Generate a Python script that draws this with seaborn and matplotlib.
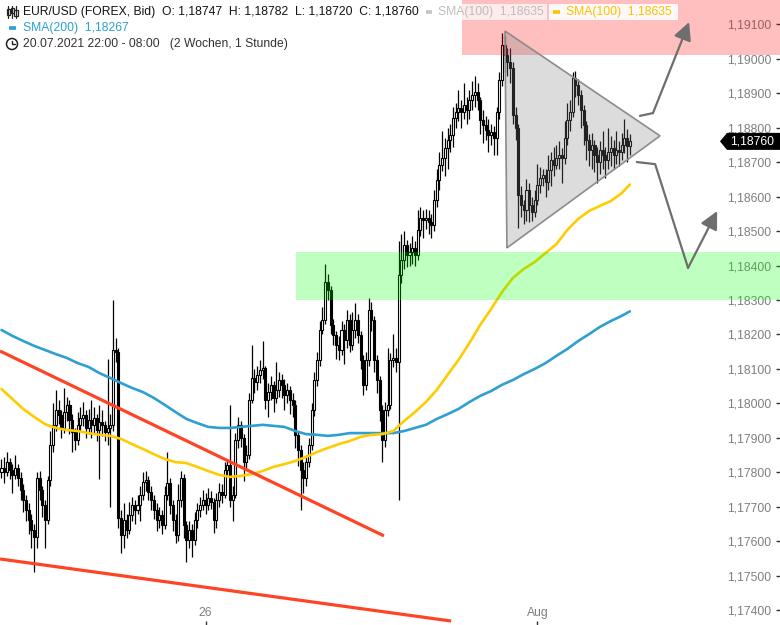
"""
EUR/USD 1h-Kerzen mit SMA(100)/SMA(200), Dreieck, Zonen und Trendlinien.
"""

import numpy as np
import pandas as pd
import matplotlib.pyplot as plt
import matplotlib.patches as mpatches
import matplotlib.transforms as mtrans
from matplotlib.lines import Line2D
from matplotlib.ticker import FixedLocator, MultipleLocator, FuncFormatter
import seaborn as sns

# ─────────────────────────────────────────────
# Daten (1-Stunden-Kerzen, Index = Kerze)
# ─────────────────────────────────────────────
first_open = 1.17800

close = [
    1.17813, 1.17801, 1.17830, 1.17807, 1.17793, 1.17813, 1.17784, 1.17749, 1.17720, 1.17691,
    1.17662, 1.17633, 1.17613, 1.17784, 1.17749, 1.17706, 1.17662, 1.17778, 1.17880, 1.17938,
    1.17981, 1.17967, 1.17929, 1.17975, 1.17996, 1.17952, 1.17917, 1.17894, 1.17938, 1.17958,
    1.17967, 1.17929, 1.17952, 1.17938, 1.17958, 1.17923, 1.17946, 1.17938, 1.17917, 1.17929,
    1.17938, 1.18155, 1.18149, 1.17668, 1.17619, 1.17662, 1.17633, 1.17677, 1.17706, 1.17691,
    1.17706, 1.17735, 1.17772, 1.17778, 1.17743, 1.17720, 1.17691, 1.17662, 1.17677, 1.17648,
    1.17735, 1.17769, 1.17706, 1.17662, 1.17619, 1.17720, 1.17784, 1.17648, 1.17604, 1.17633,
    1.17604, 1.17662, 1.17691, 1.17706, 1.17720, 1.17706, 1.17726, 1.17714, 1.17662, 1.17720,
    1.17743, 1.17735, 1.17807, 1.17822, 1.17720, 1.17735, 1.17894, 1.17938, 1.17900, 1.17830,
    1.17851, 1.18010, 1.18074, 1.18062, 1.18083, 1.18097, 1.18103, 1.18010, 1.18033, 1.18054,
    1.18016, 1.18039, 1.18068, 1.18054, 1.18025, 1.18039, 1.18010, 1.17996, 1.17909, 1.17865,
    1.17807, 1.17784, 1.17830, 1.17880, 1.17981, 1.18068, 1.18126, 1.18213, 1.18242, 1.18352,
    1.18329, 1.18228, 1.18199, 1.18170, 1.18155, 1.18213, 1.18184, 1.18242, 1.18170, 1.18213,
    1.18242, 1.18199, 1.18126, 1.18054, 1.18126, 1.18271, 1.18242, 1.18126, 1.18068, 1.17981,
    1.17894, 1.17981, 1.17996, 1.18126, 1.18132, 1.18120, 1.18373, 1.18416, 1.18460, 1.18431,
    1.18439, 1.18451, 1.18431, 1.18503, 1.18538, 1.18532, 1.18538, 1.18526, 1.18518, 1.18590,
    1.18648, 1.18692, 1.18712, 1.18741, 1.18764, 1.18779, 1.18828, 1.18845, 1.18857, 1.18845,
    1.18866, 1.18851, 1.18880, 1.18895, 1.18903, 1.18880, 1.18822, 1.18808, 1.18793, 1.18779,
    1.18787, 1.18770, 1.18845, 1.18938, 1.19040, 1.19011, 1.18990, 1.18973, 1.18837, 1.18799,
    1.18605, 1.18576, 1.18561, 1.18619, 1.18576, 1.18555, 1.18590, 1.18634, 1.18654, 1.18663,
    1.18642, 1.18677, 1.18706, 1.18692, 1.18712, 1.18721, 1.18712, 1.18770, 1.18822, 1.18845,
    1.18944, 1.18924, 1.18895, 1.18851, 1.18808, 1.18764, 1.18735, 1.18750, 1.18721, 1.18700,
    1.18735, 1.18721, 1.18706, 1.18729, 1.18741, 1.18721, 1.18735, 1.18729, 1.18750, 1.18770,
    1.18747, 1.18760,
]

high = [
    1.17840, 1.17845, 1.17860, 1.17842, 1.17825, 1.17850, 1.17825, 1.17800, 1.17765, 1.17735,
    1.17710, 1.17680, 1.17650, 1.17800, 1.17805, 1.17760, 1.17720, 1.17790, 1.17920, 1.18000,
    1.18040, 1.18010, 1.17980, 1.18045, 1.18020, 1.18010, 1.17970, 1.17930, 1.17975, 1.17990,
    1.18005, 1.17980, 1.17985, 1.18010, 1.17990, 1.17970, 1.17995, 1.17980, 1.17950, 1.18130,
    1.17970, 1.18300, 1.18190, 1.18160, 1.17690, 1.17710, 1.17680, 1.17715, 1.17730, 1.17720,
    1.17735, 1.17760, 1.17800, 1.17805, 1.17790, 1.17760, 1.17735, 1.17710, 1.17700, 1.17690,
    1.17760, 1.17860, 1.17785, 1.17720, 1.17680, 1.17765, 1.17805, 1.17795, 1.17660, 1.17660,
    1.17650, 1.17685, 1.17710, 1.17730, 1.17750, 1.17740, 1.17755, 1.17745, 1.17725, 1.17740,
    1.17770, 1.17765, 1.17830, 1.17840, 1.17995, 1.17760, 1.17915, 1.17960, 1.17950, 1.17910,
    1.17880, 1.18030, 1.18170, 1.18100, 1.18110, 1.18125, 1.18180, 1.18110, 1.18060, 1.18080,
    1.18065, 1.18120, 1.18090, 1.18085, 1.18070, 1.18060, 1.18050, 1.18030, 1.18010, 1.17920,
    1.17880, 1.17830, 1.17850, 1.17900, 1.18000, 1.18090, 1.18150, 1.18240, 1.18280, 1.18405,
    1.18375, 1.18340, 1.18245, 1.18210, 1.18195, 1.18240, 1.18230, 1.18270, 1.18260, 1.18265,
    1.18290, 1.18260, 1.18210, 1.18140, 1.18150, 1.18305, 1.18295, 1.18255, 1.18140, 1.18080,
    1.17995, 1.18005, 1.18160, 1.18145, 1.18200, 1.18160, 1.18470, 1.18490, 1.18500, 1.18475,
    1.18465, 1.18485, 1.18470, 1.18560, 1.18570, 1.18560, 1.18565, 1.18560, 1.18550, 1.18620,
    1.18680, 1.18730, 1.18790, 1.18770, 1.18800, 1.18810, 1.18860, 1.18870, 1.18910, 1.18880,
    1.18930, 1.18890, 1.18910, 1.18935, 1.18950, 1.18930, 1.18890, 1.18850, 1.18835, 1.18825,
    1.18810, 1.18805, 1.18860, 1.18960, 1.19075, 1.19065, 1.19030, 1.19030, 1.18990, 1.18860,
    1.18810, 1.18630, 1.18590, 1.18650, 1.18640, 1.18600, 1.18620, 1.18695, 1.18685, 1.18680,
    1.18680, 1.18720, 1.18730, 1.18745, 1.18750, 1.18760, 1.18740, 1.18820, 1.18870, 1.18880,
    1.18960, 1.18965, 1.18940, 1.18910, 1.18865, 1.18820, 1.18780, 1.18785, 1.18765, 1.18745,
    1.18760, 1.18790, 1.18745, 1.18800, 1.18775, 1.18765, 1.18790, 1.18760, 1.18785, 1.18825,
    1.18795, 1.18782,
]

low = [
    1.17785, 1.17770, 1.17790, 1.17780, 1.17740, 1.17780, 1.17760, 1.17720, 1.17685, 1.17660,
    1.17620, 1.17580, 1.17510, 1.17580, 1.17720, 1.17670, 1.17580, 1.17650, 1.17760, 1.17860,
    1.17920, 1.17940, 1.17900, 1.17915, 1.17950, 1.17910, 1.17860, 1.17865, 1.17880, 1.17920,
    1.17935, 1.17900, 1.17910, 1.17900, 1.17915, 1.17890, 1.17780, 1.17905, 1.17890, 1.17880,
    1.17700, 1.17920, 1.18120, 1.17640, 1.17565, 1.17580, 1.17610, 1.17620, 1.17660, 1.17650,
    1.17680, 1.17660, 1.17720, 1.17745, 1.17720, 1.17690, 1.17665, 1.17630, 1.17640, 1.17620,
    1.17635, 1.17720, 1.17680, 1.17630, 1.17595, 1.17600, 1.17700, 1.17610, 1.17540, 1.17580,
    1.17555, 1.17590, 1.17640, 1.17670, 1.17690, 1.17680, 1.17690, 1.17695, 1.17625, 1.17640,
    1.17700, 1.17710, 1.17725, 1.17790, 1.17700, 1.17660, 1.17725, 1.17870, 1.17875, 1.17775,
    1.17810, 1.17840, 1.18000, 1.18030, 1.18040, 1.18060, 1.18070, 1.17985, 1.17960, 1.18010,
    1.17975, 1.18000, 1.18020, 1.18015, 1.17980, 1.18000, 1.17970, 1.17960, 1.17870, 1.17820,
    1.17690, 1.17740, 1.17760, 1.17815, 1.17865, 1.17965, 1.18050, 1.18110, 1.18200, 1.18230,
    1.18300, 1.18200, 1.18170, 1.18130, 1.18125, 1.18140, 1.18115, 1.18160, 1.18150, 1.18155,
    1.18190, 1.18175, 1.18100, 1.18025, 1.18040, 1.18110, 1.18210, 1.18090, 1.18030, 1.17950,
    1.17830, 1.17875, 1.17965, 1.17985, 1.18105, 1.18090, 1.17720, 1.18350, 1.18390, 1.18395,
    1.18400, 1.18405, 1.18400, 1.18415, 1.18485, 1.18480, 1.18505, 1.18490, 1.18480, 1.18500,
    1.18570, 1.18620, 1.18675, 1.18660, 1.18680, 1.18730, 1.18745, 1.18800, 1.18820, 1.18800,
    1.18825, 1.18810, 1.18825, 1.18850, 1.18860, 1.18850, 1.18780, 1.18755, 1.18765, 1.18730,
    1.18750, 1.18720, 1.18720, 1.18825, 1.18920, 1.18960, 1.18950, 1.18930, 1.18810, 1.18765,
    1.18510, 1.18540, 1.18520, 1.18530, 1.18525, 1.18530, 1.18540, 1.18575, 1.18610, 1.18630,
    1.18600, 1.18620, 1.18630, 1.18660, 1.18680, 1.18680, 1.18640, 1.18695, 1.18750, 1.18790,
    1.18830, 1.18890, 1.18865, 1.18800, 1.18750, 1.18705, 1.18690, 1.18680, 1.18670, 1.18640,
    1.18665, 1.18680, 1.18655, 1.18680, 1.18690, 1.18680, 1.18695, 1.18690, 1.18705, 1.18725,
    1.18700, 1.18720,
]

# gleitende Durchschnitte (alle 4 Kerzen)
sma_idx = [0, 4, 8, 12, 16, 20, 24, 28, 32, 36, 40, 44, 48, 52, 56, 60, 64, 68, 72, 76,
           80, 84, 88, 92, 96, 100, 104, 108, 112, 116, 120, 124, 128, 132, 136, 140, 144,
           148, 152, 156, 160, 164, 168, 172, 176, 180, 184, 188, 192, 196, 200, 204, 208,
           212, 216, 220, 224, 228, 231]
sma100 = [1.18042, 1.18013, 1.17984, 1.17961, 1.17940, 1.17929, 1.17923, 1.17920, 1.17914, 1.17909,
          1.17906, 1.17897, 1.17882, 1.17868, 1.17853, 1.17839, 1.17830, 1.17827, 1.17816, 1.17804,
          1.17793, 1.17787, 1.17790, 1.17795, 1.17804, 1.17816, 1.17824, 1.17833, 1.17845, 1.17859,
          1.17871, 1.17882, 1.17891, 1.17903, 1.17909, 1.17911, 1.17920, 1.17949, 1.17975, 1.18004,
          1.18039, 1.18083, 1.18126, 1.18175, 1.18228, 1.18274, 1.18323, 1.18364, 1.18390, 1.18410,
          1.18436, 1.18462, 1.18503, 1.18535, 1.18558, 1.18573, 1.18587, 1.18610, 1.18635]
sma200 = [1.18213, 1.18196, 1.18181, 1.18167, 1.18155, 1.18143, 1.18132, 1.18117, 1.18106, 1.18088,
          1.18074, 1.18059, 1.18045, 1.18033, 1.18016, 1.17996, 1.17975, 1.17955, 1.17943, 1.17932,
          1.17929, 1.17929, 1.17932, 1.17935, 1.17938, 1.17935, 1.17932, 1.17920, 1.17911, 1.17909,
          1.17906, 1.17909, 1.17914, 1.17914, 1.17914, 1.17914, 1.17914, 1.17920, 1.17929, 1.17938,
          1.17955, 1.17969, 1.17984, 1.18004, 1.18022, 1.18036, 1.18054, 1.18068, 1.18085, 1.18100,
          1.18117, 1.18138, 1.18158, 1.18181, 1.18201, 1.18222, 1.18239, 1.18254, 1.18267]

# Achsenbeschriftung x (Kerzenindex -> Label)
xtick_idx = [75, 197]
xtick_labels = ["26", "Aug"]

# Zeichnungen (Kerzenindex, Kurs)
zone_red = (169.3, 1.19010, 1.19250)     # x-Start, unten, oben
zone_green = (108.3, 1.18300, 1.18440)
triangle = [(185.1, 1.19080), (185.8, 1.18451), (242.1, 1.18776)]
trend_upper = [(-0.55, 1.18152), (140.6, 1.17616)]
trend_lower = [(-0.55, 1.17549), (165.3, 1.17369)]
arrow_up = [(234.7, 1.18834), (239.5, 1.18842), (252.8, 1.19106)]
arrow_down = [(233.6, 1.18700), (240.3, 1.18694), (252.4, 1.18393), (263.1, 1.18558)]


def fmt(v):
    return f"{v:.5f}".replace(".", ",")


# ─────────────────────────────────────────────
# Figur
# ─────────────────────────────────────────────
sns.set_theme(style="white")
plt.rcParams["font.family"] = ["Liberation Sans", "DejaVu Sans"]
FS = 8.75

W, H = 780, 625
fig = plt.figure(figsize=(W / 100, H / 100), dpi=100)
ax = fig.add_axes([0, 0, 1, 1])
ax.set_xlim(-0.55, 286.2)
ax.set_ylim(1.173575, 1.19170)

close = np.array(close)
high = np.array(high)
low = np.array(low)
opens = np.r_[first_open, close[:-1]]
idx = np.arange(len(close))
up = close >= opens

# Kerzen
ax.vlines(idx, low, high, color="black", lw=0.9, zorder=2)
body_lo = np.minimum(opens, close)
body_h = np.maximum(np.abs(close - opens), 0.00003)
ax.bar(idx[up], body_h[up], bottom=body_lo[up], width=0.75,
       color="white", edgecolor="black", linewidth=0.8, zorder=2.5)
ax.bar(idx[~up], body_h[~up], bottom=body_lo[~up], width=0.75,
       color="black", edgecolor="black", linewidth=0.8, zorder=2.5)

# SMAs
df_sma = pd.DataFrame({"idx": sma_idx, "sma100": sma100, "sma200": sma200})
sns.lineplot(data=df_sma, x="idx", y="sma200", ax=ax, color="#2E9FD0", lw=1.9, zorder=3)
sns.lineplot(data=df_sma, x="idx", y="sma100", ax=ax, color="#FFCC00", lw=1.9, zorder=3)

# Trendlinien
for line in (trend_upper, trend_lower):
    xs, ys = zip(*line)
    ax.plot(xs, ys, color="#FF4426", lw=2.3, solid_capstyle="butt", zorder=4)

# Zonen (halbtransparent über den Kerzen)
for (x0, y0, y1), col in ((zone_red, "#FF0000"), (zone_green, "#00FF00")):
    ax.add_patch(mpatches.Rectangle((x0, y0), 400, y1 - y0, facecolor=col,
                                    alpha=0.25, edgecolor="none", zorder=5))

# Dreieck
ax.add_patch(mpatches.Polygon(triangle, closed=True, facecolor="#808080", alpha=0.27,
                              edgecolor="none", zorder=6))
ax.add_patch(mpatches.Polygon(triangle, closed=True, facecolor="none",
                              edgecolor="#8C8C8C", lw=1.2, zorder=6))

# Pfeile
for pts in (arrow_up, arrow_down):
    xs, ys = zip(*pts)
    ax.plot(xs[:-1], ys[:-1], color="#6E6E6E", lw=1.6, zorder=7)
    ax.annotate("", xy=pts[-1], xytext=pts[-2],
                arrowprops=dict(arrowstyle="-|>,head_length=0.9,head_width=0.45",
                                color="#6E6E6E", lw=1.6, shrinkA=0, shrinkB=0),
                zorder=7)

# Achsen
for s in ax.spines.values():
    s.set_visible(False)
ax.set_xlabel("")
ax.set_ylabel("")
ax.yaxis.tick_right()
ax.yaxis.set_major_locator(MultipleLocator(0.001))
ax.yaxis.set_major_formatter(FuncFormatter(lambda v, p: fmt(v)))
ax.tick_params(axis="y", direction="in", length=3, width=1, color="#333333",
               pad=-6, labelsize=FS, labelcolor="#7F7F7F", right=True, left=False)
for lab in ax.get_yticklabels():
    lab.set_horizontalalignment("right")
ax.xaxis.set_major_locator(FixedLocator(xtick_idx))
ax.set_xticklabels(xtick_labels)
ax.tick_params(axis="x", direction="in", length=3, width=1, color="#333333",
               pad=-4, labelsize=FS, labelcolor="#7F7F7F", bottom=True)
for lab in ax.get_xticklabels():
    lab.set_verticalalignment("bottom")

# Kursmarke rechts
last = close[-1]
tr = mtrans.blended_transform_factory(ax.transAxes, ax.transData)
hh = 8.5 * (1.19170 - 1.173575) / H
marker = [(720 / W, last), (727 / W, last + hh), (1.0, last + hh),
          (1.0, last - hh), (727 / W, last - hh)]
ax.add_patch(mpatches.Polygon(marker, closed=True, transform=tr, facecolor="black",
                              edgecolor="none", zorder=9, clip_on=False))
ax.text(752 / W, last, fmt(last), transform=tr, color="white", fontsize=FS,
        ha="center", va="center", zorder=10)

# ─────────────────────────────────────────────
# Kopfzeilen
# ─────────────────────────────────────────────
pt = fig.dpi_scale_trans


def px(x, y):
    return x / 100, (H - y) / 100


def ftext(x, y, s, **kw):
    fig.text(x / W, 1 - y / H, s, fontsize=FS, va="center", ha="left", **kw)


def dash(x0, x1, y, col):
    (a, b), (c, d) = px(x0, y), px(x1, y)
    fig.add_artist(Line2D([a, c], [b, d], transform=pt, color=col, lw=2.6,
                          solid_capstyle="butt"))


# Kerzen-Symbol
for xc, b0, b1 in ((8, 9, 15), (12, 8, 13), (16, 10, 16)):
    (a, y0), (_, y1) = px(xc, 6), px(xc, 18)
    fig.add_artist(Line2D([a, a], [y0, y1], transform=pt, color="#222222", lw=0.9))
    (bx, by) = px(xc - 1.5, b1)
    fig.add_artist(mpatches.Rectangle((bx, by), 0.03, (b1 - b0) / 100, transform=pt,
                                      facecolor="white", edgecolor="#222222", lw=0.9))

ftext(23, 12, f"EUR/USD (FOREX, Bid)  O: {fmt(opens[-1])}  H: {fmt(high[-1])}  "
              f"L: {fmt(low[-1])}  C: {fmt(close[-1])}", color="#131313")

# SMA-Legenden in Zeile 1
(bx, by) = px(420, 20)
fig.add_artist(mpatches.Rectangle((bx, by), 1.27, 0.16, transform=pt,
                                  facecolor="white", alpha=0.7, edgecolor="none"))
dash(426, 432, 12, "#C4C4C4")
ftext(438, 12, f"SMA(100)  {fmt(sma100[-1])}", color="#BDBDBD")
(bx, by) = px(549, 20)
fig.add_artist(mpatches.Rectangle((bx, by), 1.29, 0.16, transform=pt,
                                  facecolor="white", alpha=0.9, edgecolor="none"))
dash(553, 560, 12, "#F5C400")
ftext(566, 12, f"SMA(100)  {fmt(sma100[-1])}", color="#F5C400")

# Zeile 2
dash(9, 16, 28, "#2E9FD0")
ftext(23, 28, f"SMA(200)  {fmt(sma200[-1])}", color="#2E9FD0")

# Zeile 3 mit Uhr
cx, cy = px(12, 44)
fig.add_artist(mpatches.Circle((cx, cy), 0.055, transform=pt, facecolor="none",
                               edgecolor="#222222", lw=1.1))
fig.add_artist(Line2D([cx, cx, cx + 0.03], [cy + 0.035, cy, cy], transform=pt,
                      color="#222222", lw=1.0))
ftext(23, 44, "20.07.2021 22:00 - 08:00   (2 Wochen, 1 Stunde)", color="#333333")

fig.savefig("out.png", dpi=100)
